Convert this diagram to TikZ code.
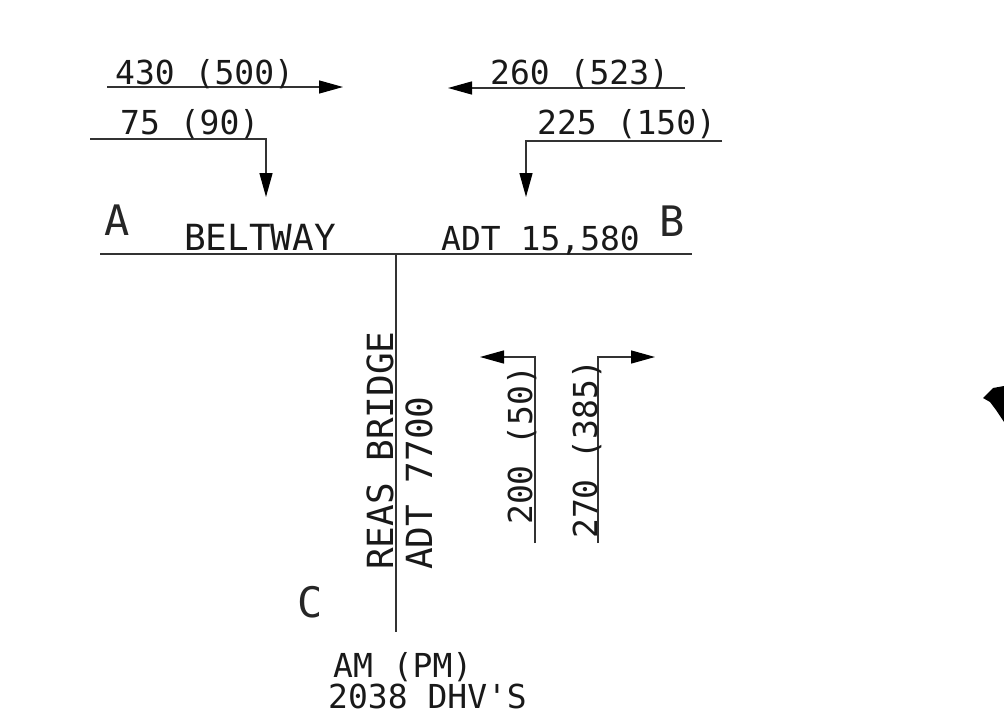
\documentclass[tikz,border=0pt]{standalone}
\usepackage{fontspec}
\newfontfamily\cadfont{DejaVu Sans Mono}
\usetikzlibrary{arrows.meta}
\begin{document}
\begin{tikzpicture}[x=1pt,y=-1pt,
  lbl/.style={inner sep=0pt,anchor=base west,font=\cadfont\fontsize{33}{33}\selectfont,text=black!90},
  road/.style={inner sep=0pt,anchor=base west,font=\cadfont\fontsize{36}{36}\selectfont,text=black!90},
  letter/.style={inner sep=0pt,anchor=base west,font=\cadfont\fontsize{42}{42}\selectfont,text=black!85},
  ln/.style={line width=1.4pt,draw=black!80},
  arr/.style={ln,-{Triangle[length=24pt,width=13pt,color=black,fill=black]}}]
\useasboundingbox[fill=white] (0,0) rectangle (1004,723);
% coordinates
\coordinate (t1s) at (107,87);  \coordinate (t1e) at (343,87);
\coordinate (t2s) at (685,88);  \coordinate (t2e) at (448,88);
\coordinate (l1s) at (90,139);  \coordinate (l1c) at (266,139); \coordinate (l1e) at (266,197);
\coordinate (l2s) at (722,141); \coordinate (l2c) at (526,141); \coordinate (l2e) at (526,197);
\coordinate (mainA) at (100,254); \coordinate (mainB) at (692,254);
\coordinate (jn) at (396,254); \coordinate (endC) at (396,632);
\coordinate (r1s) at (535,543); \coordinate (r1c) at (535,357); \coordinate (r1e) at (480,357);
\coordinate (r2s) at (598,543); \coordinate (r2c) at (598,357); \coordinate (r2e) at (655,357);
% roads
\draw[ln] (mainA) -- (mainB);
\draw[ln] (jn) -- (endC);
% movement arrows
\draw[arr] (t1s) -- (t1e);
\draw[arr] (t2s) -- (t2e);
\draw[arr] (l1s) -- (l1c) -- (l1e);
\draw[arr] (l2s) -- (l2c) -- (l2e);
\draw[arr] (r1s) -- (r1c) -- (r1e);
\draw[arr] (r2s) -- (r2c) -- (r2e);
% labels
\node[lbl] (n430) at (115,84) {430 (500)};
\node[lbl] (n260) at (490,84) {260 (523)};
\node[lbl] (n75) at (120,134) {75 (90)};
\node[lbl] (n225) at (537,134) {225 (150)};
\node[letter] (A) at (104,235) {A};
\node[letter] (B) at (659,236) {B};
\node[letter] (C) at (297,617) {C};
\node[road] (beltway) at (184,250) {BELTWAY};
\node[lbl] (adt1) at (441,250) {ADT 15,580};
\node[road,rotate=90] (reas) at (393,570) {REAS BRIDGE};
\node[road,rotate=90] (adt2) at (432,570) {ADT 7700};
\node[lbl,rotate=90] (n200) at (532,525) {200 (50)};
\node[lbl,rotate=90] (n270) at (597,539) {270 (385)};
\node[lbl] (ampm) at (333,677) {AM (PM)};
\node[lbl] (dhv) at (328,708) {2038 DHV'S};
% fragment at right edge
\fill[black] (983,398) -- (993,388) -- (1004,386) -- (1004,422) -- (996,410) -- (990,402) -- cycle;
\end{tikzpicture}
\end{document}
